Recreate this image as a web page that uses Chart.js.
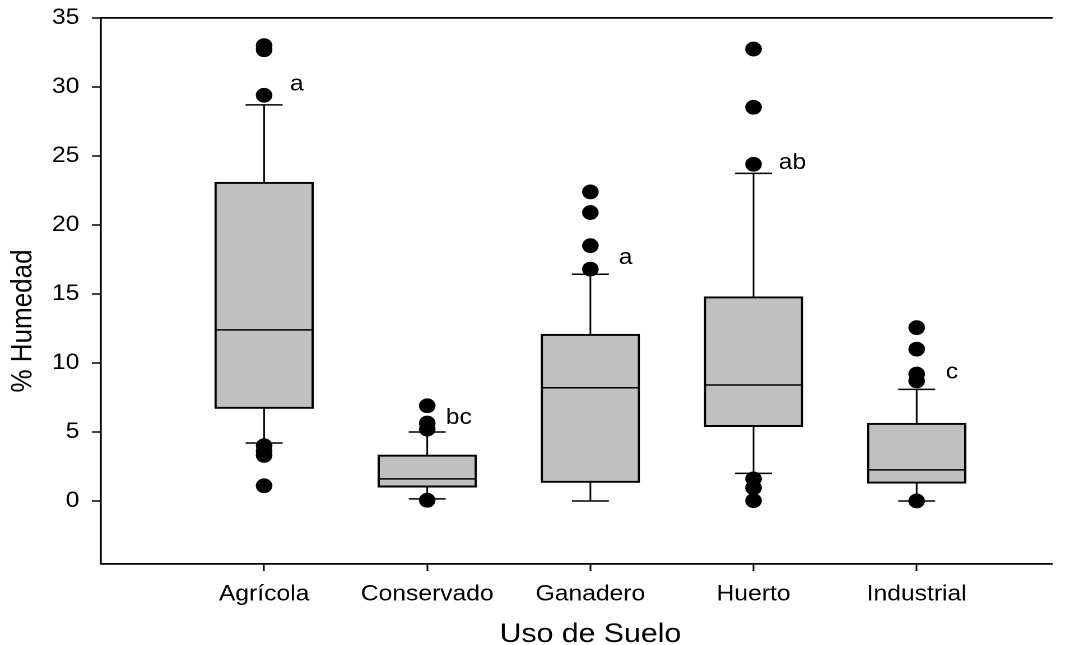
<!DOCTYPE html>
<html>
<head>
<meta charset="utf-8">
<title>% Humedad por uso de suelo</title>
<script src="https://cdn.jsdelivr.net/npm/chart.js@4"></script>
<style>
  html, body { margin: 0; padding: 0; background: #fff; overflow: hidden; }
  /* the figure is laid out on a 955px canvas and widened to the full 1070px page */
  #wrap { width: 955px; height: 645px; transform: scaleX(1.12042); transform-origin: 0 0; }
</style>
</head>
<body>
<div id="wrap"><canvas id="c" width="955" height="645"></canvas></div>
<script>
// Soil moisture (%) by land use: box = quartiles, whiskers = 10th/90th percentiles
const categories   = ['Agrícola', 'Conservado', 'Ganadero', 'Huerto', 'Industrial'];
const lowerWhisker = [4.2, 0.15, 0.0, 2.0, 0.0];
const q1           = [6.7, 1.0, 1.33, 5.38, 1.28];
const median       = [12.4, 1.6, 8.2, 8.4, 2.25];
const q3           = [23.1, 3.33, 12.08, 14.8, 5.63];
const upperWhisker = [28.7, 5.0, 16.43, 23.74, 8.09];
const outliers = [
  [33.0, 32.7, 29.4, 4.0, 3.6, 3.3, 1.1],
  [6.9, 5.65, 5.2, 0.05],
  [22.4, 20.9, 18.5, 16.8],
  [32.75, 28.53, 24.4, 1.6, 0.95, 0.02],
  [12.56, 11.0, 9.2, 8.7, 0.0]
];
// significance groups and where each letter sits (axis units)
const groupLetters = ['a', 'bc', 'a', 'ab', 'c'];
const letterX      = [1.158, 2.114, 3.174, 4.154, 5.178];
const letterY      = [30.2, 6.0, 17.6, 24.5, 9.3];
const yTicks       = [0, 5, 10, 15, 20, 25, 30, 35];

const X_MIN = 0, X_MAX = 5.83, Y_MIN = -4.57, Y_MAX = 35;
const FONT = '"Liberation Sans", Arial, Helvetica, sans-serif';

const boxData = categories.map((c, i) => ({ x: i + 1, y: [q1[i], q3[i]] }));
const pointData = outliers.flatMap((vals, i) => vals.map(v => ({ x: i + 1, y: v })));

// whiskers, caps, median lines and group letters, placed through the chart scales
const boxPlotParts = {
  id: 'boxPlotParts',
  afterDatasetsDraw(chart) {
    const { ctx, scales: { x, y } } = chart;
    const capHalf = 16.5, boxHalf = 43;
    ctx.save();
    ctx.strokeStyle = '#000';
    ctx.lineWidth = 1.5;
    categories.forEach((c, i) => {
      const cx = x.getPixelForValue(i + 1);
      const yUp = y.getPixelForValue(upperWhisker[i]);
      const yLo = y.getPixelForValue(lowerWhisker[i]);
      const yQ3 = y.getPixelForValue(q3[i]);
      const yQ1 = y.getPixelForValue(q1[i]);
      const yMed = y.getPixelForValue(median[i]);
      ctx.beginPath();
      ctx.moveTo(cx, yQ3); ctx.lineTo(cx, yUp);
      ctx.moveTo(cx - capHalf, yUp); ctx.lineTo(cx + capHalf, yUp);
      ctx.moveTo(cx, yQ1); ctx.lineTo(cx, yLo);
      ctx.moveTo(cx - capHalf, yLo); ctx.lineTo(cx + capHalf, yLo);
      ctx.moveTo(cx - boxHalf, yMed); ctx.lineTo(cx + boxHalf, yMed);
      ctx.stroke();
    });
    ctx.fillStyle = '#000';
    ctx.font = '22px ' + FONT;
    ctx.textAlign = 'left';
    ctx.textBaseline = 'middle';
    groupLetters.forEach((t, i) => {
      ctx.fillText(t, x.getPixelForValue(letterX[i]), y.getPixelForValue(letterY[i]));
    });
    ctx.restore();
  }
};

// axis titles
const axisTitles = {
  id: 'axisTitles',
  afterDraw(chart) {
    const { ctx, scales: { x } } = chart;
    ctx.save();
    ctx.fillStyle = '#000';
    ctx.font = '27px ' + FONT;
    ctx.textAlign = 'center';
    ctx.textBaseline = 'alphabetic';
    ctx.fillText('Uso de Suelo', x.getPixelForValue(3), 642);
    ctx.font = '26px ' + FONT;
    ctx.translate(21, 321);
    ctx.rotate(-Math.PI / 2);
    ctx.textBaseline = 'middle';
    ctx.fillText('% Humedad', 0, 0);
    ctx.restore();
  }
};

new Chart(document.getElementById('c'), {
  type: 'bar',
  data: {
    datasets: [
      {
        type: 'bar',
        data: boxData,
        xAxisID: 'x', yAxisID: 'y',
        backgroundColor: '#c0c0c0',
        borderColor: '#000',
        borderWidth: 2,
        borderSkipped: false,
        barThickness: 88,
        order: 2
      },
      {
        type: 'scatter',
        data: pointData,
        xAxisID: 'x', yAxisID: 'y',
        pointRadius: 7.4,
        pointBackgroundColor: '#000',
        pointBorderWidth: 0,
        showLine: false,
        order: 1
      }
    ]
  },
  options: {
    responsive: false,
    devicePixelRatio: 2,
    animation: false,
    events: [],
    layout: { padding: { top: 18, right: 16, bottom: 0, left: 0 } },
    plugins: { legend: { display: false }, tooltip: { enabled: false } },
    scales: {
      x: {
        type: 'linear',
        position: 'bottom',
        offset: false,
        min: X_MIN, max: X_MAX,
        afterBuildTicks: s => { s.ticks = categories.map((c, i) => ({ value: i + 1 })); },
        afterFit: s => { s.height = 81; s.paddingLeft = 0; s.paddingRight = 0; },
        ticks: {
          autoSkip: false, maxRotation: 0, padding: 10,
          color: '#000', font: { family: FONT, size: 22 },
          callback: v => categories[Math.round(v) - 1] || ''
        },
        grid: { offset: false, drawOnChartArea: false, drawTicks: true, tickLength: 7, tickColor: '#000', tickWidth: 1.5 },
        border: { display: true, color: '#000', width: 1.8 }
      },
      xTop: {
        type: 'linear',
        position: 'top',
        offset: false,
        min: X_MIN, max: X_MAX,
        afterFit: s => { s.height = 0; s.paddingLeft = 0; s.paddingRight = 0; },
        ticks: { display: false },
        grid: { display: false, offset: false },
        border: { display: true, color: '#000', width: 1.8 }
      },
      y: {
        type: 'linear',
        position: 'left',
        min: Y_MIN, max: Y_MAX,
        afterBuildTicks: s => { s.ticks = yTicks.map(v => ({ value: v })); },
        afterFit: s => { s.width = 90.1; s.paddingTop = 0; s.paddingBottom = 0; },
        ticks: { padding: 11.3, color: '#000', font: { family: FONT, size: 22 } },
        grid: { drawOnChartArea: false, drawTicks: true, tickLength: 8, tickColor: '#000', tickWidth: 1.5 },
        border: { display: true, color: '#000', width: 1.8 }
      }
    }
  },
  plugins: [boxPlotParts, axisTitles]
});
</script>
</body>
</html>
